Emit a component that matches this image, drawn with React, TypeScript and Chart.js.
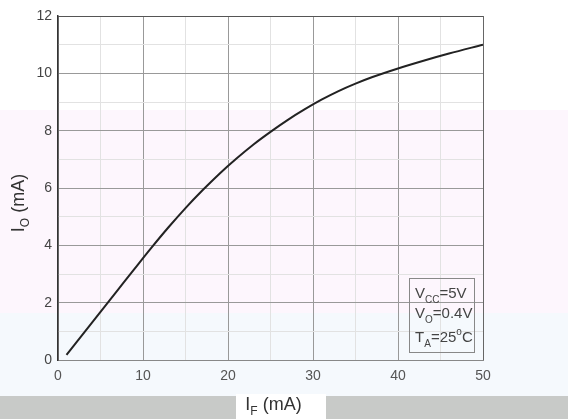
import React, { useEffect, useRef } from "react";
import { Chart, registerables } from "chart.js";

Chart.register(...registerables);

// Forward current I_F (mA)
const ifValues = [1, 3, 5, 7, 9, 11, 13, 15, 17, 19, 21, 23, 25, 27, 29, 31, 33, 35, 37, 40, 43, 46, 50];
// Output current I_O (mA)
const ioValues = [0.18, 0.93, 1.68, 2.43, 3.18, 3.92, 4.63, 5.3, 5.92, 6.5, 7.03, 7.52, 7.96, 8.37, 8.74, 9.08, 9.38, 9.64, 9.87, 10.17, 10.44, 10.69, 11.0];

const xTickLabels = [0, 10, 20, 30, 40, 50];
const yTickLabels = [0, 2, 4, 6, 8, 10, 12];

type Part = { t: string; sub?: boolean; sup?: boolean };
const yTitle: Part[] = [{ t: "I" }, { t: "O", sub: true }, { t: " (mA)" }];
const xTitle: Part[] = [{ t: "I" }, { t: "F", sub: true }, { t: " (mA)" }];
const conditions: Part[][] = [
  [{ t: "V" }, { t: "CC", sub: true }, { t: "=5V" }],
  [{ t: "V" }, { t: "O", sub: true }, { t: "=0.4V" }],
  [{ t: "T" }, { t: "A", sub: true }, { t: "=25" }, { t: "o", sup: true }, { t: "C" }],
];

const FAM = '"Liberation Sans", Arial, Helvetica, sans-serif';

function richWidth(ctx: CanvasRenderingContext2D, parts: Part[], size: number, small: number) {
  let w = 0;
  for (const p of parts) {
    ctx.font = `${p.sub || p.sup ? small : size}px ${FAM}`;
    w += ctx.measureText(p.t).width;
  }
  return w;
}

function drawRich(ctx: CanvasRenderingContext2D, parts: Part[], x: number, y: number, size: number, small: number) {
  let cx = x;
  for (const p of parts) {
    ctx.font = `${p.sub || p.sup ? small : size}px ${FAM}`;
    const dy = p.sub ? size * 0.3 : p.sup ? -size * 0.45 : 0;
    ctx.fillText(p.t, cx, y + dy);
    cx += ctx.measureText(p.t).width;
  }
}

const annotPlugin = {
  id: "annot",
  afterDraw(chart: any) {
    const ctx: CanvasRenderingContext2D = chart.ctx;
    const area = chart.chartArea;
    ctx.save();
    ctx.textBaseline = "alphabetic";
    ctx.textAlign = "left";
    // Y title
    ctx.fillStyle = "#333";
    ctx.save();
    ctx.translate(24, 203);
    ctx.rotate(-Math.PI / 2);
    const wy = richWidth(ctx, yTitle, 18, 12);
    drawRich(ctx, yTitle, -wy / 2, 0, 18, 12);
    ctx.restore();
    // X title
    const wx = richWidth(ctx, xTitle, 18, 12);
    drawRich(ctx, xTitle, (area.left + area.right) / 2 - wx / 2 + 3, 410, 18, 12);
    // Conditions box
    const bx = chart.scales.x.getPixelForValue(41.3);
    const bx2 = chart.scales.x.getPixelForValue(48.9);
    const by = chart.scales.y.getPixelForValue(2.85);
    const by2 = chart.scales.y.getPixelForValue(0.28);
    ctx.strokeStyle = "#888";
    ctx.lineWidth = 1;
    ctx.strokeRect(Math.round(bx) + 0.5, Math.round(by) + 0.5, Math.round(bx2 - bx), Math.round(by2 - by));
    ctx.fillStyle = "#444";
    const baselines = [298, 318, 342];
    conditions.forEach((line, i) => {
      drawRich(ctx, line, bx + 6, baselines[i], 15, 10);
    });
    ctx.restore();
  },
};

export default function App() {
  const ref = useRef<HTMLCanvasElement>(null);

  useEffect(() => {
    if (!ref.current) return;
    const chart = new Chart(ref.current, {
      type: "line",
      data: {
        datasets: [
          {
            data: ifValues.map((x, i) => ({ x, y: ioValues[i] })),
            borderColor: "#222",
            borderWidth: 2,
            pointRadius: 0,
            cubicInterpolationMode: "monotone",
            fill: false,
          },
        ],
      },
      options: {
        animation: false,
        responsive: false,
        maintainAspectRatio: false,
        layout: { padding: { left: 0, right: 85, top: 16, bottom: 0 } },
        plugins: { legend: { display: false }, tooltip: { enabled: false }, title: { display: false } },
        scales: {
          x: {
            type: "linear",
            min: 0,
            max: 50,
            afterBuildTicks: (s: any) => {
              const t = [];
              for (let v = 0; v <= 50; v += 5) t.push({ value: v });
              s.ticks = t;
            },
            afterFit: (s: any) => {
              s.height = 59;
            },
            ticks: {
              autoSkip: false,
              maxRotation: 0,
              padding: 8,
              color: "#555",
              font: { family: FAM, size: 14 },
              callback: (v: any) => (xTickLabels.includes(Number(v)) ? String(v) : ""),
            },
            grid: {
              drawTicks: false,
              color: (c: any) => (c.tick && c.tick.value % 10 === 0 ? (c.tick.value === 50 ? "#666" : "#999") : "#e2e2e2"),
              lineWidth: 1,
            },
            border: { display: true, color: "#888", width: 1 },
          },
          y: {
            type: "linear",
            min: 0,
            max: 12,
            afterBuildTicks: (s: any) => {
              const t = [];
              for (let v = 0; v <= 12; v += 1) t.push({ value: v });
              s.ticks = t;
            },
            afterFit: (s: any) => {
              s.width = 58;
            },
            ticks: {
              autoSkip: false,
              padding: 6,
              color: "#444",
              font: { family: FAM, size: 14 },
              callback: (v: any) => (yTickLabels.includes(Number(v)) ? String(v) : ""),
            },
            grid: {
              drawTicks: false,
              color: (c: any) => (c.tick && c.tick.value % 2 === 0 ? (c.tick.value === 12 ? "#555" : "#999") : "#e2e2e2"),
              lineWidth: 1,
            },
            border: { display: true, color: "#333", width: 1.5 },
          },
        },
      },
      plugins: [annotPlugin],
    } as any);
    return () => chart.destroy();
  }, []);

  return (
    <div style={{ position: "fixed", left: 0, top: 0, width: 568, height: 419, background: "#fff", overflow: "hidden" }}>
      <div style={{ position: "absolute", left: 0, top: 110, width: 568, height: 203, background: "#fdf6fd" }} />
      <div style={{ position: "absolute", left: 0, top: 313, width: 568, height: 83, background: "#f5f9fd" }} />
      <div style={{ position: "absolute", left: 0, top: 396, width: 568, height: 23, background: "#c8cac8" }} />
      <div style={{ position: "absolute", left: 236, top: 394, width: 90, height: 25, background: "#fff" }} />
      <canvas ref={ref} width={568} height={419} style={{ position: "absolute", left: 0, top: 0, width: 568, height: 419 }} />
    </div>
  );
}
